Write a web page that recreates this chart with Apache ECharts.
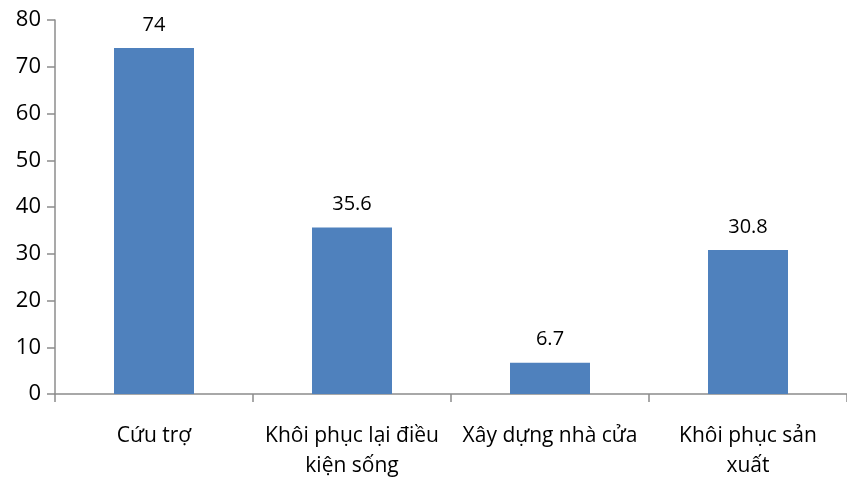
<!DOCTYPE html>
<html>
<head>
<meta charset="utf-8">
<script src="https://cdn.jsdelivr.net/npm/echarts@6/dist/echarts.min.js"></script>
<style>
  html, body { margin: 0; padding: 0; background: #fff; }
  #chart { width: 847px; height: 481px; }
</style>
</head>
<body>
<div id="chart"></div>
<script>
// Categories of support and their values
const categories = [
  'Cứu trợ',
  'Khôi phục lại điều\nkiện sống',
  'Xây dựng nhà cửa',
  'Khôi phục sản\nxuất'
];
const values = [74, 35.6, 6.7, 30.8];
const yTicks = { min: 0, max: 80, interval: 10 };

const FONT = 'Open Sans';
const axisGray = '#8c8c8c';

const chart = echarts.init(document.getElementById('chart'), null, { renderer: 'canvas' });
chart.setOption({
  animation: false,
  grid: { left: 55, top: 20, width: 796, height: 382, containLabel: false },
  xAxis: {
    type: 'category',
    data: categories,
    axisLine: { lineStyle: { color: axisGray, width: 1.5 } },
    axisTick: { show: true, alignWithLabel: false, length: 8, inside: false, lineStyle: { color: axisGray, width: 1.5 } },
    axisLabel: {
      interval: 0,
      margin: 27,
      fontFamily: FONT,
      fontSize: 21,
      color: '#000',
      lineHeight: 30
    }
  },
  yAxis: {
    type: 'value',
    min: yTicks.min,
    max: yTicks.max,
    interval: yTicks.interval,
    splitLine: { show: false },
    axisLine: { show: true, lineStyle: { color: axisGray, width: 1.5 } },
    axisTick: { show: true, length: 8, lineStyle: { color: axisGray, width: 1.5 } },
    axisLabel: { fontFamily: FONT, fontSize: 22, color: '#000', margin: 14 }
  },
  series: [{
    type: 'bar',
    data: values,
    barWidth: 80,
    itemStyle: { color: '#4f81bd' },
    label: {
      show: true,
      position: 'top',
      distance: 13,
      fontFamily: FONT,
      fontSize: 20,
      color: '#000'
    }
  }]
});
</script>
</body>
</html>
